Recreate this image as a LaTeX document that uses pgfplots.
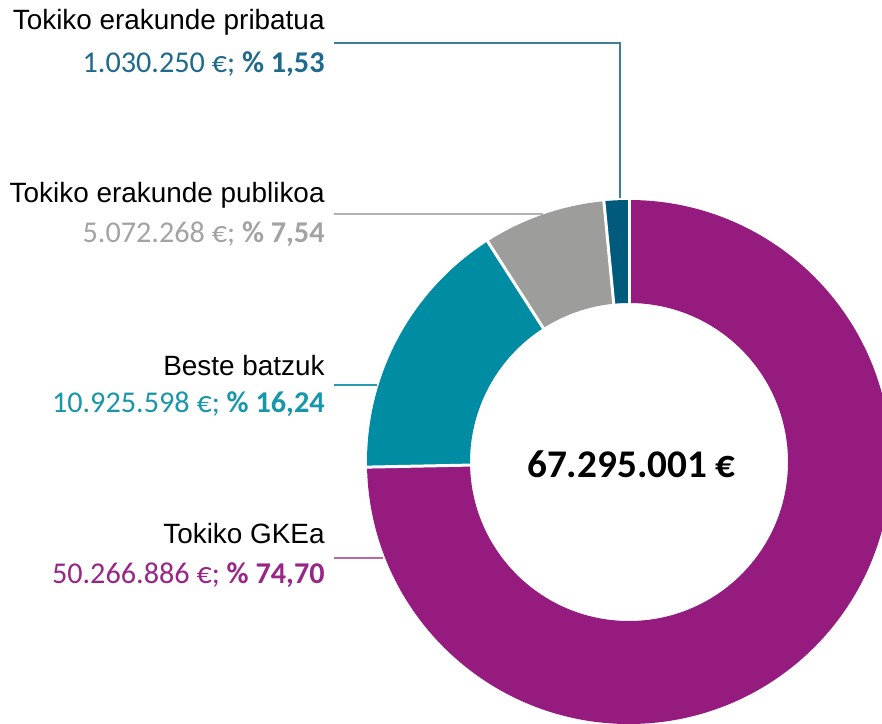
\documentclass[border=0pt]{standalone}
\usepackage{pgfplots}
\pgfplotsset{compat=1.18}
\usepackage{pgfplotstable}
\usepackage{fontspec}
\setmainfont{Liberation Sans}
\newfontfamily\valfont{Carlito}
\usetikzlibrary{calc}

\definecolor{cpriv}{HTML}{005A7C}
\definecolor{cpubl}{HTML}{9D9D9C}
\definecolor{cbeste}{HTML}{008CA2}
\definecolor{cgke}{HTML}{951B7E}
\definecolor{tpriv}{HTML}{1F6A8C}
\definecolor{tpubl}{HTML}{A3A3A3}
\definecolor{tbeste}{HTML}{1896AA}
\definecolor{tgke}{HTML}{992686}
\definecolor{lpriv}{HTML}{3E7E9B}
\definecolor{lpubl}{HTML}{B4B4B4}
\definecolor{lbeste}{HTML}{2A9AAD}
\definecolor{lgke}{HTML}{B668AB}

% shares of 67.295.001 EUR, counter-clockwise from the top
\pgfplotstableread[col sep=comma]{
name,amount,pct
pribatua,1030250,1.53
publikoa,5072268,7.54
beste,10925598,16.24
gkea,50266886,74.70
}\donut

\pgfplotstablegetelem{0}{pct}\of\donut \pgfmathsetmacro\aA{90+3.6*\pgfplotsretval}
\pgfplotstablegetelem{1}{pct}\of\donut \pgfmathsetmacro\aB{\aA+3.6*\pgfplotsretval}
\pgfplotstablegetelem{2}{pct}\of\donut \pgfmathsetmacro\aC{\aB+3.6*\pgfplotsretval}
\pgfplotstablegetelem{3}{pct}\of\donut \pgfmathsetmacro\aD{\aC+3.6*\pgfplotsretval}

% outer and inner radius (1 px = 0.5pt)
\def\Ro{131pt}
\def\Ri{79.5pt}

\newcommand\slice[3]{%
  \fill[#1] ($(axis cs:629,261)+(#2:\Ro)$) arc[start angle=#2, end angle=#3, radius=\Ro]
    -- ($(axis cs:629,261)+(#3:\Ri)$) arc[start angle=#3, end angle=#2, radius=\Ri] -- cycle;}
\newcommand\gap[1]{%
  \draw[white, line width=1.5pt] ($(axis cs:629,261)+(#1:77pt)$) -- ($(axis cs:629,261)+(#1:133pt)$);}

\begin{document}
\begin{tikzpicture}
\useasboundingbox (0,0) rectangle (441pt,361.5pt);
\clip (0,0) rectangle (441pt,361.5pt);
\begin{axis}[
    x=0.5pt, y=0.5pt,
    xmin=0, xmax=882, ymin=0, ymax=723,
    hide axis,
    clip=true,
]
\slice{cpriv}{90}{\aA}
\slice{cpubl}{\aA}{\aB}
\slice{cbeste}{\aB}{\aC}
\slice{cgke}{\aC}{\aD}
\gap{90}
\gap{\aA}
\gap{\aB}
\gap{\aC}

% leader lines
\draw[lpriv, line width=0.75pt] (axis cs:334,680) -- (axis cs:620,680) -- (axis cs:620,525);
\draw[lpubl, line width=0.75pt] (axis cs:334,509) -- (axis cs:543,509);
\draw[lbeste, line width=0.75pt] (axis cs:334,338) -- (axis cs:377,338);
\draw[lgke, line width=0.75pt] (axis cs:334,165) -- (axis cs:383,165);

% labels
\tikzset{lab/.style={anchor=base east, inner sep=0pt, font=\fontsize{13.95}{16}\selectfont},
         val/.style={anchor=base east, inner sep=0pt, font=\valfont\fontsize{15.1}{18}\selectfont}}
\node[lab] at (axis cs:325,693) {Tokiko erakunde pribatua};
\node[val, text=tpriv] at (axis cs:325,650) {1.030.250 €; \textbf{\% 1,53}};
\node[lab] at (axis cs:325,520) {Tokiko erakunde publikoa};
\node[val, text=tpubl] at (axis cs:325,480) {5.072.268 €; \textbf{\% 7,54}};
\node[lab] at (axis cs:325,347) {Beste batzuk};
\node[val, text=tbeste] at (axis cs:325,310) {10.925.598 €; \textbf{\% 16,24}};
\node[lab] at (axis cs:325,180) {Tokiko GKEa};
\node[val, text=tgke] at (axis cs:325,140) {50.266.886 €; \textbf{\% 74,70}};

\node[anchor=base, inner sep=0pt, font=\valfont\bfseries\fontsize{19.6}{22}\selectfont]
  at (axis cs:631.5,246) {67.295.001 €};
\end{axis}
\end{tikzpicture}
\end{document}
